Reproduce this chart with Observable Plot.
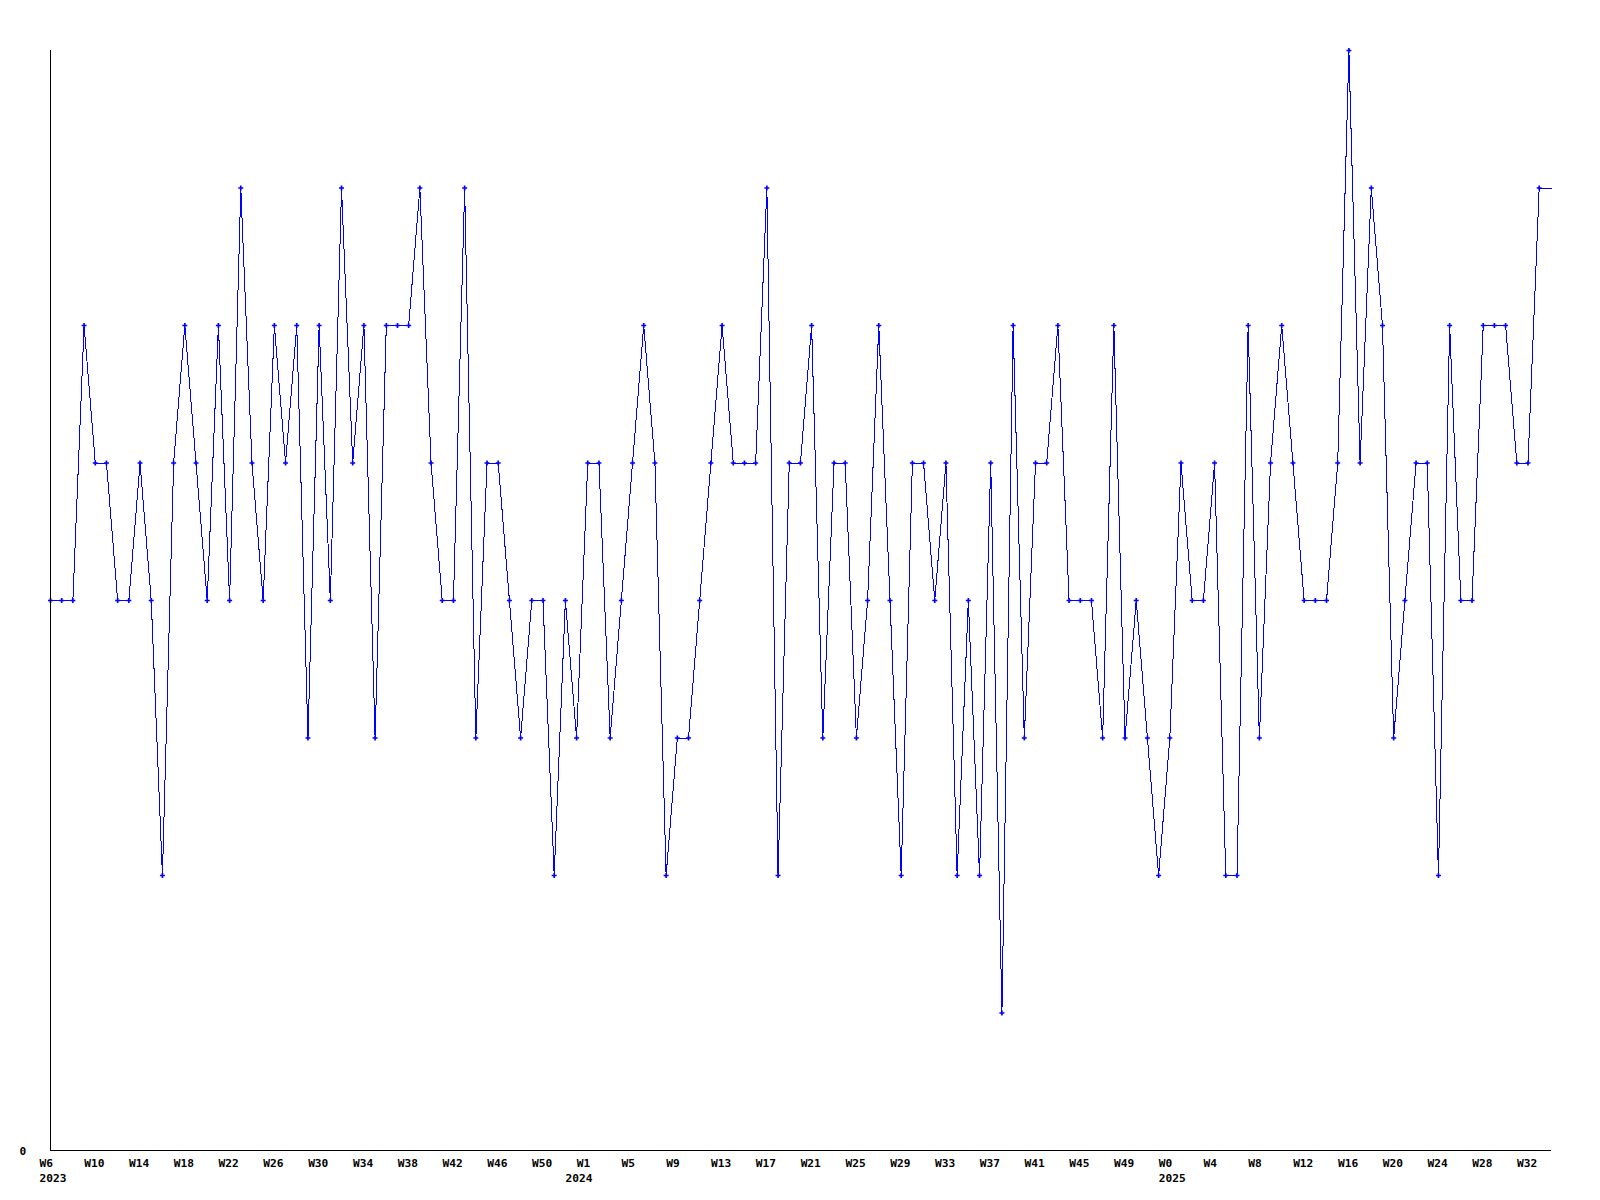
<!DOCTYPE html>
<html>
<head>
<meta charset="utf-8">
<script src="https://cdn.jsdelivr.net/npm/d3@7"></script>
<script src="https://cdn.jsdelivr.net/npm/@observablehq/plot@0.6"></script>
<style>
  html, body { margin: 0; padding: 0; background: #ffffff; }
  #chart svg { display: block; }
</style>
</head>
<body>
<div id="chart"></div>
<script>
// Weekly values, one per week starting at W6 2023 (134 weeks)
const values = [
  4, 4, 4, 6, 5, 5, 4, 4, 5, 4,
  2, 5, 6, 5, 4, 6, 4, 7, 5, 4,
  6, 5, 6, 3, 6, 4, 7, 5, 6, 3,
  6, 6, 6, 7, 5, 4, 4, 7, 3, 5,
  5, 4, 3, 4, 4, 2, 4, 3, 5, 5,
  3, 4, 5, 6, 5, 2, 3, 3, 4, 5,
  6, 5, 5, 5, 7, 2, 5, 5, 6, 3,
  5, 5, 3, 4, 6, 4, 2, 5, 5, 4,
  5, 2, 4, 2, 5, 1, 6, 3, 5, 5,
  6, 4, 4, 4, 3, 6, 3, 4, 3, 2,
  3, 5, 4, 4, 5, 2, 2, 6, 3, 5,
  6, 5, 4, 4, 4, 5, 8, 5, 7, 6,
  3, 4, 5, 5, 2, 6, 4, 4, 6, 6,
  6, 5, 5, 7
];

// Week tick labels, one every 4 weekly points
const weekTickLabels = [
  "W6", "W10", "W14", "W18", "W22", "W26", "W30", "W34", "W38", "W42",
  "W46", "W50", "W1", "W5", "W9", "W13", "W17", "W21", "W25", "W29",
  "W33", "W37", "W41", "W45", "W49", "W0", "W4", "W8", "W12", "W16",
  "W20", "W24", "W28", "W32"
];
const tickEvery = 4;

// Year labels and the weekly point where each year starts
const yearLabels = ["2023", "2024", "2025"];
const yearStartIndex = [0, 47, 100];

const yMax = 8;

const data = values.map((v, i) => ({i, v}));
const xMax = values.length + 0.1;
const last = data[data.length - 1];
const tail = [{i: last.i, v: last.v}, {i: xMax, v: last.v}];

const weekTicks = weekTickLabels.map((label, k) => ({i: k * tickEvery, label}));
const yearTicks = yearLabels.map((label, k) => ({i: yearStartIndex[k], label}));

const font = "'DejaVu Sans Mono', 'Liberation Mono', monospace";
const blue = "#0000ff";

const chart = Plot.plot({
  width: 1600,
  height: 1200,
  marginLeft: 50,
  marginRight: 49,
  marginTop: 50,
  marginBottom: 50,
  style: {background: "#ffffff", fontFamily: font},
  x: {domain: [0, xMax], axis: null},
  y: {domain: [0, yMax], axis: null},
  marks: [
    Plot.line(data, {x: "i", y: "v", stroke: blue, strokeWidth: 1, shapeRendering: "crispEdges"}),
    Plot.line(tail, {x: "i", y: "v", stroke: blue, strokeWidth: 1, shapeRendering: "crispEdges"}),
    Plot.dot(data, {x: "i", y: "v", symbol: "cross", r: 2.1, fill: blue, stroke: "none"}),
    Plot.ruleX([0], {stroke: "#000000", strokeWidth: 1}),
    Plot.ruleY([0], {stroke: "#000000", strokeWidth: 1}),
    Plot.text(weekTicks, {
      x: "i", text: "label", frameAnchor: "bottom", lineAnchor: "bottom",
      textAnchor: "start", dx: -11, dy: 16,
      fontSize: 11.2, fontWeight: "bold", fontFamily: font, fill: "#000000"
    }),
    Plot.text(yearTicks, {
      x: "i", text: "label", frameAnchor: "bottom", lineAnchor: "bottom",
      textAnchor: "start", dx: -11, dy: 31.5,
      fontSize: 11.2, fontWeight: "bold", fontFamily: font, fill: "#000000"
    }),
    Plot.text([0], {
      y: d => d, text: d => String(d), frameAnchor: "left", lineAnchor: "bottom",
      textAnchor: "start", dx: -31, dy: 4,
      fontSize: 11.2, fontWeight: "bold", fontFamily: font, fill: "#000000"
    })
  ]
});

document.getElementById("chart").appendChild(chart);
</script>
</body>
</html>
